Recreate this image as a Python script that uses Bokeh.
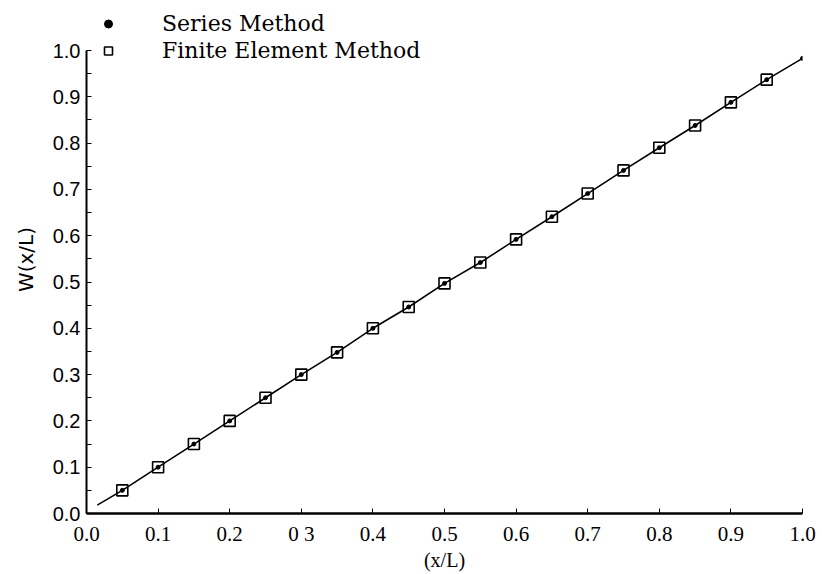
from bokeh.plotting import figure
from bokeh.models import Range1d, Legend, LegendItem, FixedTicker
from bokeh.embed import file_html
from bokeh.resources import INLINE

# Data
x_fem = [0.05, 0.10, 0.15, 0.20, 0.25, 0.30, 0.35, 0.40, 0.45, 0.50,
         0.55, 0.60, 0.65, 0.70, 0.75, 0.80, 0.85, 0.90, 0.95]
y_fem = [0.050, 0.100, 0.150, 0.200, 0.250, 0.300, 0.348, 0.400, 0.446, 0.497,
         0.542, 0.592, 0.641, 0.691, 0.741, 0.790, 0.838, 0.888, 0.937]
x_series = [0.015, 0.05, 0.10, 0.15, 0.20, 0.25, 0.30, 0.35, 0.40, 0.45, 0.50,
            0.55, 0.60, 0.65, 0.70, 0.75, 0.80, 0.85, 0.90, 0.95, 1.00]
y_series = [0.018, 0.050, 0.100, 0.150, 0.200, 0.250, 0.300, 0.348, 0.400, 0.446, 0.497,
            0.542, 0.592, 0.641, 0.691, 0.741, 0.790, 0.838, 0.888, 0.937, 0.983]
ticks = [0.0, 0.1, 0.2, 0.3, 0.4, 0.5, 0.6, 0.7, 0.8, 0.9, 1.0]
x_tick_labels = ["0.0", "0.1", "0.2", "0 3", "0.4", "0.5", "0.6", "0.7", "0.8", "0.9", "1.0"]
y_tick_labels = ["0.0", "0.1", "0.2", "0.3", "0.4", "0.5", "0.6", "0.7", "0.8", "0.9", "1.0"]
series_names = ["Series Method", "Finite Element Method"]
x_title = "(x/L)"
y_title = "W(x/L)"

# frame: top at 5px, bottom at 513px; value 1.0 sits at 50px
y_top = 508.0 / 463.0

p = figure(width=822, height=574, output_backend="svg", toolbar_location=None,
           x_range=Range1d(0, 1.0), y_range=Range1d(0, y_top),
           min_border_left=86, min_border_right=20, min_border_top=5, min_border_bottom=61)
p.outline_line_color = None
p.xgrid.visible = False
p.ygrid.visible = False
p.background_fill_color = "white"

line_r = p.line(x_series, y_series, line_color="black", line_width=1.6)
dots_r = p.scatter(x_series[1:], y_series[1:], marker="circle", size=4, color="black")
fem_r = p.scatter(x_fem, y_fem, marker="square", size=11, fill_color=None,
                  line_color="black", line_width=1.6)

# axes
xa = p.xaxis[0]
xa.ticker = FixedTicker(ticks=ticks)
xa.major_label_overrides = dict(zip(ticks, x_tick_labels))
xa.axis_line_width = 2.5
xa.axis_line_color = "black"
xa.major_tick_in = 5
xa.major_tick_out = 0
xa.minor_tick_line_color = None
xa.major_label_text_font = "Liberation Serif"
xa.major_label_text_font_size = "21px"
xa.major_label_text_color = "black"
xa.major_label_standoff = 8
xa.axis_label = x_title
xa.axis_label_text_font = "Liberation Serif"
xa.axis_label_text_font_style = "normal"
xa.axis_label_text_font_size = "20px"
xa.axis_label_text_color = "black"
xa.axis_label_standoff = 0

ya = p.yaxis[0]
ya.bounds = (0, 1.0)
ya.ticker = FixedTicker(ticks=ticks, minor_ticks=[t + 0.05 for t in ticks[:-1]])
ya.major_label_overrides = dict(zip(ticks, y_tick_labels))
ya.axis_line_width = 2
ya.axis_line_color = "black"
ya.major_tick_in = 5
ya.major_tick_out = 0
ya.minor_tick_in = 5
ya.minor_tick_out = 0
ya.major_label_text_font = "Liberation Sans"
ya.major_label_text_font_size = "20px"
ya.major_label_text_color = "black"
ya.major_label_standoff = 6
ya.axis_label = y_title
ya.axis_label_text_font = "DejaVu Sans"
ya.axis_label_text_font_style = "normal"
ya.axis_label_text_font_size = "20px"
ya.axis_label_text_color = "black"
ya.axis_label_standoff = 12

legend = Legend(items=[LegendItem(label=series_names[0], renderers=[dots_r]),
                       LegendItem(label=series_names[1], renderers=[fem_r])],
                location=(12, 449), orientation="vertical",
                border_line_color=None, background_fill_alpha=0,
                padding=0, spacing=0, margin=0,
                label_text_font="DejaVu Serif", label_text_font_size="22px",
                label_text_color="black",
                label_height=27, glyph_height=27, glyph_width=20, label_standoff=44)
p.add_layout(legend, "center")

open("out.html", "w").write(file_html(p, INLINE))
